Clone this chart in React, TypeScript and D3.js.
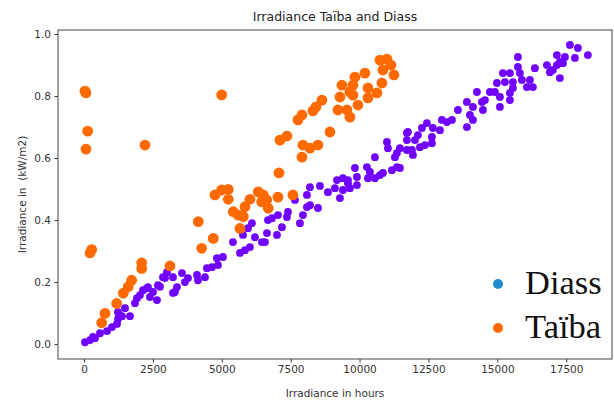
import React from "react";
import * as d3 from "d3";

// Diass readings: [hours, kW/m2]
const diassPoints: [number, number][] = [
  [36, 0.006], [218, 0.013], [327, 0.023], [399, 0.019], [580, 0.035], [834, 0.042],
  [1016, 0.055], [1197, 0.065], [1234, 0.081], [1234, 0.103], [1379, 0.09], [1669, 0.09],
  [1487, 0.116], [1850, 0.132], [1923, 0.148], [2032, 0.158], [2141, 0.174], [2322, 0.184],
  [2394, 0.152], [2648, 0.142], [2503, 0.168], [2685, 0.19], [2866, 0.216], [3011, 0.232],
  [3229, 0.216], [3555, 0.229], [3301, 0.168], [3374, 0.184], [3664, 0.2], [3773, 0.213],
  [4100, 0.223], [4136, 0.206], [4462, 0.245], [4390, 0.216], [4644, 0.248], [4825, 0.277],
  [4862, 0.255], [5043, 0.281], [5406, 0.329], [5660, 0.294], [5841, 0.303], [6022, 0.313],
  [5769, 0.352], [5950, 0.374], [6095, 0.39], [6204, 0.345], [6458, 0.329], [6676, 0.4],
  [6567, 0.329], [6639, 0.358], [7002, 0.352], [6821, 0.406], [7038, 0.416], [7183, 0.377],
  [7365, 0.41], [7401, 0.426], [7655, 0.465], [7836, 0.39], [7945, 0.416], [8090, 0.442],
  [8199, 0.448], [8090, 0.481], [8199, 0.506], [8490, 0.439], [8562, 0.51], [8852, 0.49],
  [9179, 0.529], [9106, 0.503], [9288, 0.471], [9397, 0.497], [9578, 0.529], [9650, 0.503],
  [9904, 0.513], [9832, 0.568], [10267, 0.571], [10304, 0.535], [10376, 0.555], [10557, 0.535],
  [10739, 0.545], [10557, 0.603], [10993, 0.652], [11029, 0.632], [11174, 0.561], [11283, 0.603],
  [11356, 0.616], [11464, 0.632], [11464, 0.568], [11718, 0.681], [11900, 0.626], [11936, 0.61],
  [12009, 0.658], [12118, 0.674], [12190, 0.635], [12371, 0.642], [10848, 0.552], [9578, 0.519],
  [11718, 0.626], [9397, 0.535], [9904, 0.539], [11356, 0.571], [11718, 0.658], [11755, 0.684],
  [12263, 0.697], [12444, 0.713], [12625, 0.668], [12625, 0.648], [12662, 0.697], [12916, 0.69],
  [12988, 0.723], [13170, 0.716], [13351, 0.723], [13569, 0.755], [13895, 0.781], [13895, 0.7],
  [14004, 0.739], [14113, 0.765], [14113, 0.723], [14258, 0.813], [14440, 0.781], [14476, 0.755],
  [14548, 0.787], [14730, 0.813], [14911, 0.813], [14984, 0.842], [15092, 0.797], [15092, 0.765],
  [15201, 0.874], [15274, 0.845], [15455, 0.874], [15455, 0.81], [15455, 0.787], [15564, 0.845],
  [15564, 0.826], [15746, 0.926], [15746, 0.894], [15818, 0.874], [15891, 0.852], [16072, 0.829],
  [16181, 0.852], [16290, 0.829], [16362, 0.89], [16798, 0.9], [16906, 0.877], [17015, 0.884],
  [17160, 0.932], [17160, 0.9], [17269, 0.858], [17378, 0.906], [17451, 0.926], [17632, 0.965],
  [17813, 0.923], [17922, 0.955], [18285, 0.932], [17269, 0.91],
  [2275, 0.18], [2757, 0.185], [2939, 0.213], [3229, 0.165],
];

// Taïba readings: [hours, kW/m2]
const taibaPoints: [number, number][] = [
  [36, 0.816], [73, 0.81], [134, 0.687], [73, 0.629], [2213, 0.642], [4996, 0.804],
  [279, 0.305], [218, 0.294], [2093, 0.262], [2093, 0.244], [1731, 0.206], [1607, 0.185],
  [1426, 0.164], [1186, 0.131], [762, 0.099], [642, 0.069], [3120, 0.252], [4147, 0.395],
  [4270, 0.309], [4691, 0.341], [4753, 0.481], [4996, 0.497], [5235, 0.499], [5235, 0.467],
  [5417, 0.427], [5598, 0.416], [5780, 0.411], [5660, 0.373], [5841, 0.443], [6022, 0.467],
  [6324, 0.491], [6505, 0.481], [6447, 0.459], [6686, 0.438], [6628, 0.465], [7038, 0.474],
  [7582, 0.481], [7075, 0.552], [7909, 0.603], [7945, 0.642], [8199, 0.632], [8490, 0.642],
  [7111, 0.658], [7365, 0.671], [8925, 0.684], [7764, 0.723], [7909, 0.739], [8308, 0.752],
  [8417, 0.765], [8635, 0.787], [9215, 0.755], [9542, 0.755], [9650, 0.732], [9288, 0.797],
  [9759, 0.803], [9360, 0.835], [9759, 0.835], [9650, 0.813], [9832, 0.861], [10195, 0.874],
  [10304, 0.826], [10630, 0.81], [10304, 0.794], [9941, 0.771], [10739, 0.916], [10993, 0.919],
  [11138, 0.9], [10848, 0.884], [11247, 0.868], [10811, 0.842],
];

const xTicks = [0, 2500, 5000, 7500, 10000, 12500, 15000, 17500];
const yTicks = [0, 0.2, 0.4, 0.6, 0.8, 1.0];
const xDomain = [-943, 19160];
const yDomain = [-0.048, 1.013];
const legendLabels = ["Diass", "Taïba"];
const legendColors = ["#1f8ecf", "#ff6a00"];

function App() {
  const svgRef = React.useRef<SVGSVGElement>(null);

  const width = 614;
  const height = 407;
  const margin = { top: 30, right: 2, bottom: 48, left: 58 };
  const innerW = width - margin.left - margin.right;
  const innerH = height - margin.top - margin.bottom;

  React.useEffect(() => {
    const xScale = d3.scaleLinear().domain(xDomain).range([0, innerW]);
    const yScale = d3.scaleLinear().domain(yDomain).range([innerH, 0]);

    const svgEl = d3.select(svgRef.current);
    svgEl.selectAll("*").remove();
    svgEl.append("rect").attr("width", width).attr("height", height).attr("fill", "#fff");

    const svg = svgEl.append("g").attr("transform", `translate(${margin.left},${margin.top})`);
    const font = "DejaVu Sans, sans-serif";

    // axes
    const xAxis = d3.axisBottom(xScale).tickValues(xTicks).tickSize(3.5).tickPadding(3.5).tickFormat(d3.format("d"));
    const xg = svg.append("g").attr("transform", `translate(0,${innerH})`).call(xAxis);
    xg.select(".domain").remove();
    xg.selectAll("line").attr("stroke", "#333");
    xg.selectAll("text").attr("fill", "#333").attr("font-size", 10.5).attr("font-family", font);

    const yAxis = d3.axisLeft(yScale).tickValues(yTicks).tickSize(3.5).tickPadding(3.5).tickFormat(d3.format(".1f"));
    const yg = svg.append("g").call(yAxis);
    yg.select(".domain").remove();
    yg.selectAll("line").attr("stroke", "#333");
    yg.selectAll("text").attr("fill", "#333").attr("font-size", 10.5).attr("font-family", font);

    // points
    svg.append("g")
      .selectAll("circle")
      .data(diassPoints)
      .enter()
      .append("circle")
      .attr("cx", (d) => xScale(d[0]))
      .attr("cy", (d) => yScale(d[1]))
      .attr("r", 3.9)
      .attr("fill", "#7000ff");

    svg.append("g")
      .selectAll("circle")
      .data(taibaPoints)
      .enter()
      .append("circle")
      .attr("cx", (d) => xScale(d[0]))
      .attr("cy", (d) => yScale(d[1]))
      .attr("r", 5.4)
      .attr("fill", "#ff6a00");

    // frame
    svg.append("rect")
      .attr("width", innerW)
      .attr("height", innerH)
      .attr("fill", "none")
      .attr("stroke", "#444")
      .attr("stroke-width", 1);

    // labels
    svgEl.append("text")
      .attr("x", margin.left + innerW / 2)
      .attr("y", 21)
      .attr("text-anchor", "middle")
      .attr("font-family", font)
      .attr("font-size", 12.5)
      .attr("fill", "#222")
      .text("Irradiance Taïba and Diass");

    svgEl.append("text")
      .attr("x", margin.left + innerW / 2)
      .attr("y", 397)
      .attr("text-anchor", "middle")
      .attr("font-family", font)
      .attr("font-size", 10.5)
      .attr("fill", "#333")
      .text("Irradiance in hours");

    svgEl.append("text")
      .attr("transform", `translate(26,${margin.top + innerH / 2}) rotate(-90)`)
      .attr("text-anchor", "middle")
      .attr("font-family", font)
      .attr("font-size", 10.5)
      .attr("fill", "#333")
      .style("white-space", "pre")
      .text("Irradiance in  (kW/m2)");

    // legend
    const legend = svgEl.append("g").attr("transform", "translate(498,284)");
    legendLabels.forEach((label, i) => {
      const row = legend.append("g").attr("transform", `translate(0,${i * 44})`);
      row.append("circle").attr("r", 5).attr("fill", legendColors[i]);
      row.append("text")
        .attr("x", 27)
        .attr("y", 10)
        .attr("font-family", "Liberation Serif, serif")
        .attr("font-size", 34.5)
        .attr("fill", "#111")
        .text(label);
    });
  }, []);

  return (
    <svg
      ref={svgRef}
      width={width}
      height={height}
      style={{ position: "absolute", left: 0, top: 0, display: "block" }}
    />
  );
}

export default App;
